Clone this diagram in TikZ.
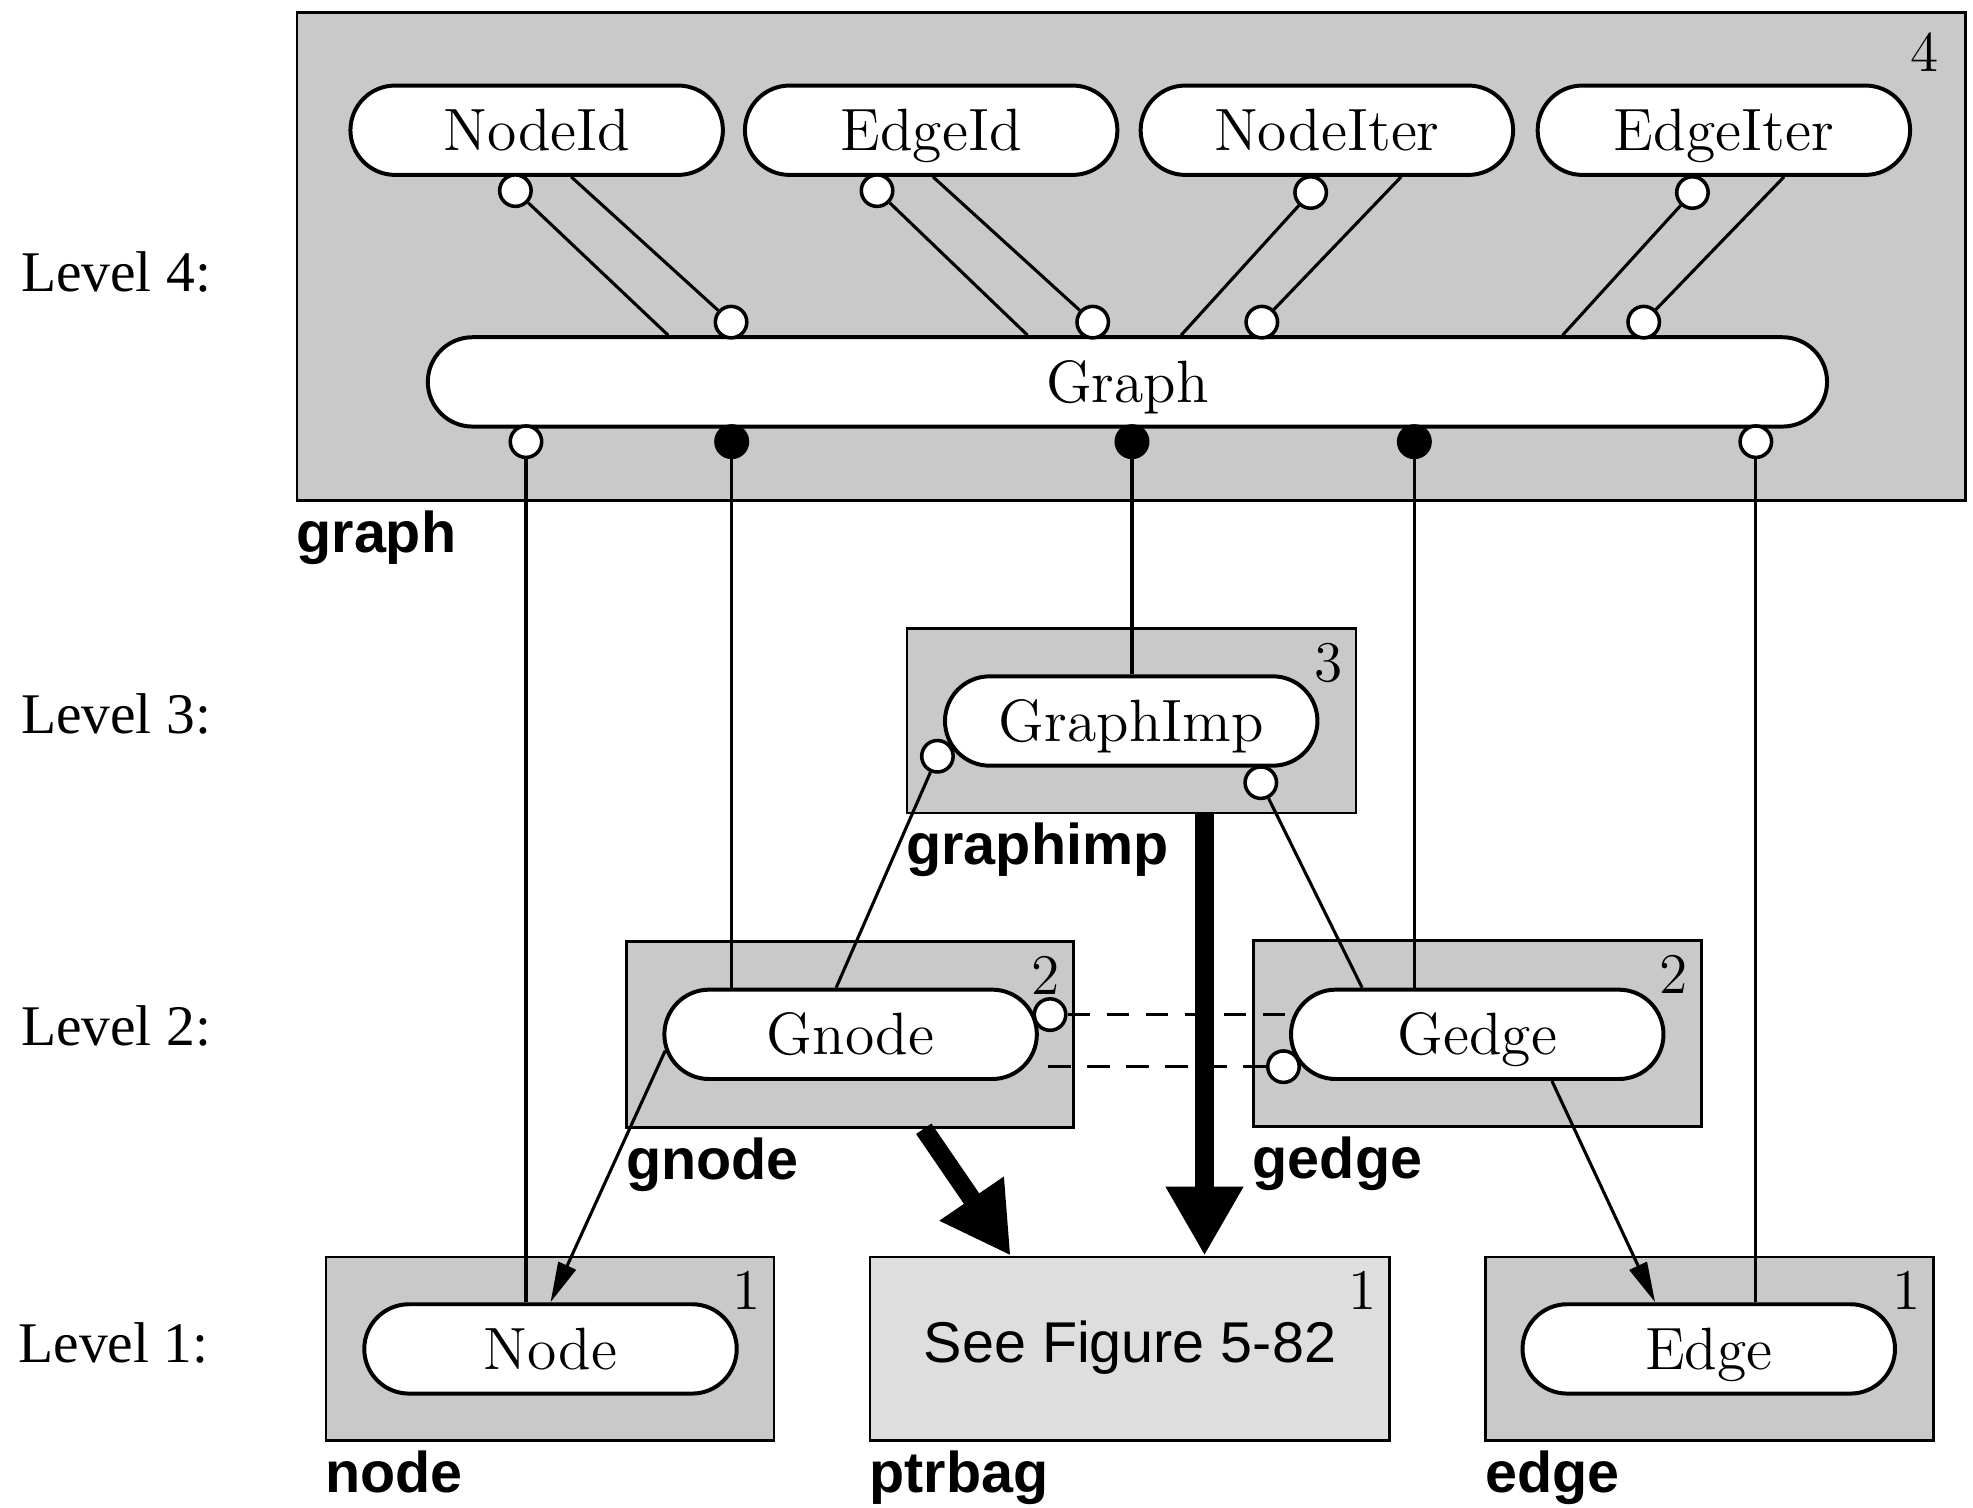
\documentclass[tikz,border=0pt]{standalone}
\usepackage{fontspec}
\newfontfamily\levelfont{Liberation Serif}
\newfontfamily\pkgfont{Liberation Sans}
\usepackage{tikz}
\usetikzlibrary{shapes.misc, arrows.meta, calc}

\begin{document}
\begin{tikzpicture}[x=1cm, y=-1cm,
    pkg/.style={rectangle, draw=black, fill=black!21, line width=0.6pt, inner sep=0pt},
    pill/.style={rounded rectangle, draw=black, fill=white, line width=0.9pt, minimum height=0.71cm, minimum width=2.96cm, inner sep=0pt, text height=9.2pt, text depth=0pt, font=\fontsize{13.5}{16}\selectfont},
    ocirc/.style={circle, draw=black, fill=white, line width=0.8pt, minimum size=0.25cm, inner sep=0pt},
    fcirc/.style={ocirc, fill=black},
    link/.style={line width=0.7pt},
    uses/.style={line width=0.7pt, -{Triangle[length=3.2mm, width=1.5mm]}},
    bigarrow/.style={line width=4.2pt, -{Triangle[length=5.5mm, width=5.8mm]}},
    lvl/.style={font=\levelfont\fontsize{13}{16}\selectfont, anchor=base west, inner sep=0pt},
    pkgname/.style={font=\pkgfont\bfseries\fontsize{13}{16}\selectfont, anchor=base west, inner sep=0pt},
    lvlnum/.style={font=\fontsize{13}{16}\selectfont, anchor=north east, inner sep=0pt}
]
    \useasboundingbox (0,0) rectangle (15.68,11.98);

    % level labels
    \node[lvl] (lv4) at (0.16,2.32) {Level 4:};
    \node[lvl] (lv3) at (0.16,5.83) {Level 3:};
    \node[lvl] (lv2) at (0.16,8.31) {Level 2:};
    \node[lvl] (lv1) at (0.14,10.83) {Level 1:};

    % packages
    \node[pkg, minimum width=13.26cm, minimum height=3.88cm] (graphpkg) at (8.99,2.04) {};
    \node[pkg, minimum width=3.57cm, minimum height=1.465cm] (graphimppkg) at (8.9925,5.7275) {};
    \node[pkg, minimum width=3.55cm, minimum height=1.48cm] (gnodepkg) at (6.755,8.22) {};
    \node[pkg, minimum width=3.56cm, minimum height=1.48cm] (gedgepkg) at (11.74,8.215) {};
    \node[pkg, minimum width=3.56cm, minimum height=1.46cm] (nodepkg) at (4.37,10.72) {};
    \node[pkg, fill=black!13, minimum width=4.13cm, minimum height=1.46cm] (ptrbagpkg) at (8.98,10.72) {};
    \node[pkg, minimum width=3.56cm, minimum height=1.46cm] (edgepkg) at (13.588,10.72) {};

    \node[lvlnum] at ([shift={(-2.2mm,-1.6mm)}]graphpkg.north east) {4};
    \node[lvlnum] at ([shift={(-1.1mm,-1.2mm)}]graphimppkg.north east) {3};
    \node[lvlnum] at ([shift={(-1.1mm,-1.2mm)}]gnodepkg.north east) {2};
    \node[lvlnum] at ([shift={(-1.1mm,-1.2mm)}]gedgepkg.north east) {2};
    \node[lvlnum] at ([shift={(-1.1mm,-1.2mm)}]nodepkg.north east) {1};
    \node[lvlnum] at ([shift={(-1.1mm,-1.2mm)}]ptrbagpkg.north east) {1};
    \node[lvlnum] at ([shift={(-1.1mm,-1.2mm)}]edgepkg.north east) {1};

    \node[pkgname] at ([yshift=-4mm]graphpkg.south west) {graph};
    \node[pkgname] at ([yshift=-4mm]graphimppkg.south west) {graphimp};
    \node[pkgname] at ([yshift=-4mm]gnodepkg.south west) {gnode};
    \node[pkgname] at ([yshift=-4mm]gedgepkg.south west) {gedge};
    \node[pkgname] at ([yshift=-4mm]nodepkg.south west) {node};
    \node[pkgname] at ([yshift=-4mm]ptrbagpkg.south west) {ptrbag};
    \node[pkgname] at ([yshift=-4mm]edgepkg.south west) {edge};

    % components
    \node[pill] (NodeId) at (4.265,1.035) {NodeId};
    \node[pill] (EdgeId) at (7.40,1.035) {EdgeId};
    \node[pill] (NodeIter) at (10.545,1.035) {NodeIter};
    \node[pill] (EdgeIter) at (13.70,1.035) {EdgeIter};
    \node[pill, minimum width=11.12cm] (Graph) at (8.96,3.035) {Graph};
    \node[pill] (GraphImp) at (8.99,5.73) {GraphImp};
    \node[pill] (Gnode) at (6.76,8.22) {Gnode};
    \node[pill] (Gedge) at (11.74,8.22) {Gedge};
    \node[pill] (Node) at (4.375,10.72) {Node};
    \node[pill] (Edge) at (13.58,10.72) {Edge};
    \node[font=\pkgfont\fontsize{13}{16}\selectfont, anchor=base] (seefig) at (8.98,10.83) {See Figure 5-82};

    % circles
    \node[ocirc] (nidA) at (4.096,1.515) {};
    \node[ocirc] (nidB) at (5.81,2.56) {};
    \node[ocirc] (eidA) at (6.97,1.515) {};
    \node[ocirc] (eidB) at (8.684,2.56) {};
    \node[ocirc] (nitA) at (10.416,1.53) {};
    \node[ocirc] (nitB) at (10.028,2.56) {};
    \node[ocirc] (eitA) at (13.45,1.53) {};
    \node[ocirc] (eitB) at (13.063,2.56) {};
    \node[ocirc] (gb1) at (4.18,3.51) {};
    \node[fcirc] (gb2) at (5.815,3.51) {};
    \node[fcirc] (gb3) at (8.996,3.51) {};
    \node[fcirc] (gb4) at (11.24,3.51) {};
    \node[ocirc] (gb5) at (13.954,3.51) {};
    \node[ocirc] (giA) at (7.45,6.01) {};
    \node[ocirc] (giB) at (10.02,6.22) {};
    \node[ocirc] (gnc) at (8.345,8.063) {};
    \node[ocirc] (gec) at (10.20,8.477) {};

    % level 4 links
    \draw[link] (nidA) -- ([xshift=-3.65cm]Graph.north);
    \draw[link] ([xshift=2.75mm]NodeId.south) -- (nidB);
    \draw[link] (eidA) -- ([xshift=-0.794cm]Graph.north);
    \draw[link] ([xshift=0.15mm]EdgeId.south) -- (eidB);
    \draw[link] (nitA) -- ([xshift=0.426cm]Graph.north);
    \draw[link] ([xshift=5.9mm]NodeIter.south) -- (nitB);
    \draw[link] (eitA) -- ([xshift=3.458cm]Graph.north);
    \draw[link] ([xshift=4.78mm]EdgeIter.south) -- (eitB);

    % down from Graph
    \draw[link] (gb1) -- (gb1 |- Node.north);
    \draw[link] (gb2) -- (gb2 |- Gnode.north);
    \draw[link] (gb3) -- (gb3 |- GraphImp.north);
    \draw[link] (gb4) -- (gb4 |- Gedge.north);
    \draw[link] (gb5) -- (gb5 |- Edge.north);

    \draw[link] (giA) -- ([xshift=-1.15mm]Gnode.north);
    \draw[link] (giB) -- ([xshift=-9.15mm]Gedge.north);

    \draw[link, dash pattern=on 1.8mm off 1.3mm] (gnc) -- (gnc -| Gedge.west);
    \draw[link, dash pattern=on 1.8mm off 1.3mm] (gec) -- (gec -| Gnode.east);

    \draw[uses] (Gnode.185) -- (Node.north);
    \draw[uses] (Gedge.328) -- (Edge.139);

    % package dependencies
    \coordinate (imparr) at ([xshift=5.8mm]graphimppkg.south);
    \draw[bigarrow] (gnodepkg.308) -- (ptrbagpkg.142);
    \draw[bigarrow] (imparr) -- (imparr |- ptrbagpkg.north);
\end{tikzpicture}
\end{document}
